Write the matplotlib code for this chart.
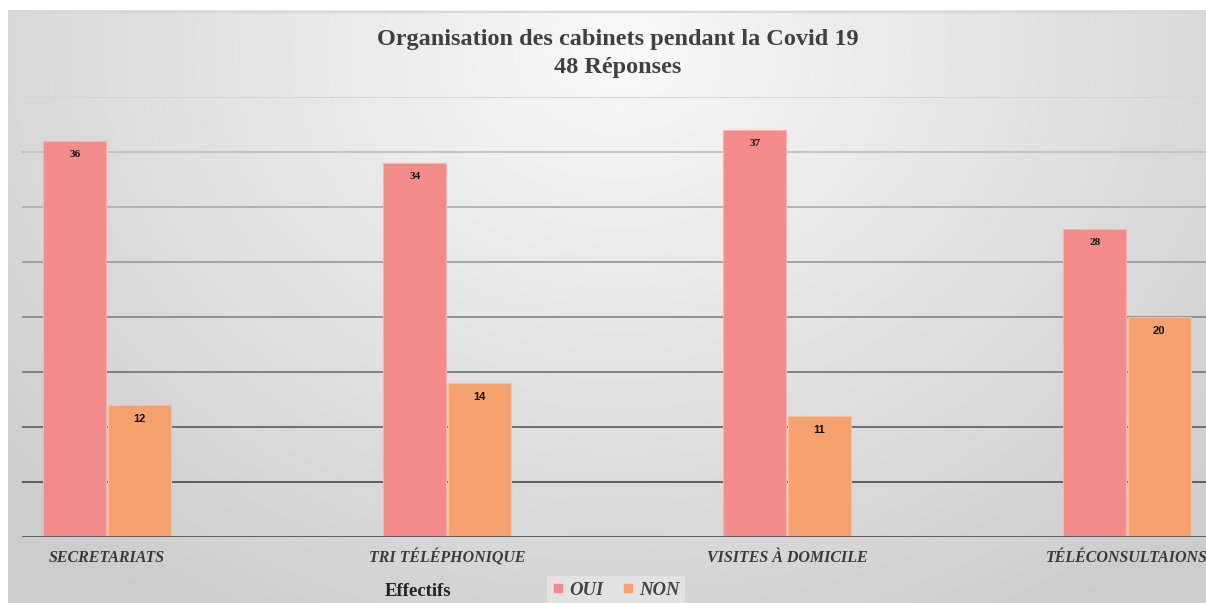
import numpy as np
import matplotlib
matplotlib.use("Agg")
import matplotlib.pyplot as plt
from matplotlib.lines import Line2D

categories = ["SECRETARIATS", "TRI TÉLÉPHONIQUE", "VISITES À DOMICILE", "TÉLÉCONSULTAIONS"]
oui = [36, 34, 37, 28]
non = [12, 14, 11, 20]
series_names = ["OUI", "NON"]
yticks = [0, 5, 10, 15, 20, 25, 30, 35, 40]

C_OUI = "#F28B8A"
C_NON = "#F4A16E"

W, H = 1206, 603
fig = plt.figure(figsize=(W / 100, H / 100), dpi=100)
fig.patch.set_facecolor("white")

# background radial gradient panel
bg = fig.add_axes([8 / W, 0, 1 - 8 / W, (H - 10) / H])
bg.set_zorder(-10)
yy, xx = np.mgrid[0:593, 0:1198]
cx, cy = 610, 40
d = np.sqrt(((xx - cx) / 760.0) ** 2 + ((yy - cy) / 620.0) ** 2)
g = np.clip(0.975 - 0.16 * d, 0.8, 1.0)
bg.imshow(np.dstack([g, g, g]), aspect="auto", extent=[0, 1, 0, 1], origin="upper")
bg.axis("off")
bg.plot([0, 1], [0.997, 0.997], color="#d8d8d8", lw=1.5, transform=bg.transAxes)

ax = fig.add_axes([22 / W, (H - 537) / H, 1190 / W, 440 / H])
ax.set_facecolor("none")
x = np.arange(len(categories))
bw = 0.186
b1 = ax.bar(x - bw / 2 - 0.002, oui, bw, color=C_OUI, edgecolor="#f7b3b0", linewidth=0.8, zorder=3)
b2 = ax.bar(x + bw / 2 + 0.002, non, bw, color=C_NON, edgecolor="#f8c09a", linewidth=0.8, zorder=3)

ax.set_xlim(-0.25, 3.25)
ax.set_ylim(0, 40)

# gridlines, darker toward the bottom
for v in yticks[1:]:
    t = (v - 5) / 35.0
    gcol = 0.33 + 0.5 * t
    ax.axhline(v, color=(gcol, gcol, gcol), lw=1.3, zorder=1)
ax.axhline(0, color="#555555", lw=2.0, zorder=4)

for rect, v in zip(b1, oui):
    ax.annotate(str(v), (rect.get_x() + rect.get_width() / 2, v), xytext=(0, -10),
                textcoords="offset points", ha="center", va="center",
                fontsize=8, fontweight="bold", family="Liberation Serif", color="#111111", zorder=5)
for rect, v in zip(b2, non):
    ax.annotate(str(v), (rect.get_x() + rect.get_width() / 2, v), xytext=(0, -10),
                textcoords="offset points", ha="center", va="center",
                fontsize=8, fontweight="bold", family="Liberation Sans", color="#111111", zorder=5)

ax.set_yticks([])
ax.set_xticks(x)
ax.set_xticklabels(categories, family="Liberation Serif", fontweight="bold", style="italic",
                   fontsize=11.5, color="#3a3a3a", va="center")
ax.tick_params(axis="x", length=0, pad=15)
for s in ax.spines.values():
    s.set_visible(False)

fig.text(618 / W, 1 - 40 / H, "Organisation des cabinets pendant la Covid 19", ha="center", va="center",
         family="Liberation Serif", fontweight="bold", fontsize=17.5, color="#404040")
fig.text(618 / W, 1 - 68 / H, "48 Réponses", ha="center", va="center",
         family="Liberation Serif", fontweight="bold", fontsize=17.5, color="#404040")

fig.text(418 / W, 1 - 591 / H, "Effectifs", ha="center", va="center",
         family="Liberation Serif", fontweight="bold", fontsize=13.5, color="#222222")

handles = [Line2D([], [], marker="s", ls="", color=C_OUI, markersize=6),
           Line2D([], [], marker="s", ls="", color=C_NON, markersize=6)]
leg = fig.legend(handles, series_names, loc="center", bbox_to_anchor=(616 / W, 1 - 590 / H),
                 ncol=2, frameon=True, fancybox=False, handlelength=0.6, handletextpad=0.3,
                 columnspacing=1.0, borderpad=0.3,
                 prop={"family": "Liberation Serif", "weight": "bold", "style": "italic", "size": 13.5})
leg.get_frame().set_facecolor("#e6e6e6")
leg.get_frame().set_edgecolor("none")
for t in leg.get_texts():
    t.set_color("#444444")

fig.savefig("out.png", dpi=100)
